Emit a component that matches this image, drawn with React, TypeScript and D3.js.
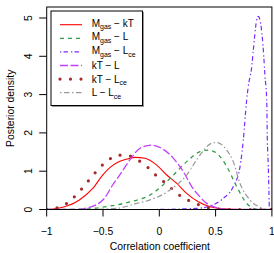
import React from 'react'
import * as d3 from 'd3'

// posterior density curves, [correlation, density]
const mgasKT: [number, number][] = [
  [-1, 0], [-0.926, 0.02], [-0.858, 0.06], [-0.71, 0.25], [-0.591, 0.55], [-0.503, 0.9],
  [-0.429, 1.12], [-0.355, 1.25], [-0.296, 1.31], [-0.216, 1.36], [-0.127, 1.34],
  [-0.023, 1.16], [0.066, 0.9], [0.155, 0.68], [0.243, 0.42], [0.346, 0.2], [0.45, 0.07],
  [0.566, 0.02], [0.717, 0], [1, 0],
]
const mgasL: [number, number][] = [
  [-1, 0], [-0.88, 0], [-0.678, 0.01], [-0.438, 0.09], [-0.26, 0.2], [-0.082, 0.38],
  [0.095, 0.81], [0.243, 1.25], [0.361, 1.51], [0.435, 1.55], [0.51, 1.47], [0.599, 1.12],
  [0.687, 0.6], [0.776, 0.16], [0.835, 0.03], [0.894, 0], [1, 0],
]
const mgasLce: [number, number][] = [
  [-1, 0], [-0.08, 0], [0.332, 0.03], [0.45, 0.09], [0.568, 0.29], [0.657, 0.6],
  [0.717, 1.12], [0.746, 1.81], [0.776, 2.86], [0.79, 3.21], [0.821, 3.73], [0.835, 4.16],
  [0.865, 4.95], [0.879, 5.04], [0.894, 4.95], [0.924, 4.16], [0.939, 3.47], [0.954, 2.86],
  [0.959, 1.9], [0.968, 1.12], [0.974, 0.42], [0.977, 0.07], [0.983, 0], [1, 0],
]
const ktL: [number, number][] = [
  [-1, 0], [-0.75, 0], [-0.659, 0.03], [-0.562, 0.12], [-0.488, 0.29], [-0.414, 0.64],
  [-0.34, 0.95], [-0.26, 1.3], [-0.171, 1.6], [-0.068, 1.68], [0.036, 1.57], [0.124, 1.34],
  [0.213, 0.99], [0.288, 0.6], [0.361, 0.33], [0.421, 0.16], [0.51, 0.05], [0.63, 0], [1, 0],
]
const ktLce: [number, number][] = [
  [-1, 0], [-0.977, 0.02], [-0.882, 0.06], [-0.793, 0.23], [-0.722, 0.43], [-0.657, 0.65],
  [-0.595, 0.87], [-0.527, 1.1], [-0.453, 1.29], [-0.364, 1.42], [-0.266, 1.4],
  [-0.178, 1.27], [-0.098, 1.09], [-0.029, 0.89], [0.05, 0.7], [0.124, 0.51], [0.204, 0.32],
  [0.29, 0.2], [0.385, 0.09], [0.486, 0.02], [0.6, 0], [1, 0],
]
const lLce: [number, number][] = [
  [-1, 0], [-0.615, 0], [-0.378, 0.03], [-0.2, 0.16], [-0.083, 0.25], [0.095, 0.51],
  [0.243, 0.9], [0.361, 1.42], [0.465, 1.73], [0.51, 1.75], [0.599, 1.55], [0.657, 1.25],
  [0.717, 0.68], [0.805, 0.25], [0.894, 0.06], [0.95, 0], [1, 0],
]

const xTicks = [-1, -0.5, 0, 0.5, 1]
const yTicks = [0, 1, 2, 3, 4, 5]

const series = [
  { a: 'M', sa: 'gas', b: 'kT', sb: '', data: mgasKT, color: '#ff0000', dash: '', w: 1.1 },
  { a: 'M', sa: 'gas', b: 'L', sb: '', data: mgasL, color: '#2f9e44', dash: '4 4', w: 1.3 },
  { a: 'M', sa: 'gas', b: 'L', sb: 'ce', data: mgasLce, color: '#7a2cff', dash: '1.3 2.2 4.5 3', w: 1.2 },
  { a: 'kT', sa: '', b: 'L', sb: '', data: ktL, color: '#c040ff', dash: '8 2.5', w: 1.3 },
  { a: 'kT', sa: '', b: 'L', sb: 'ce', data: ktLce, color: '#a52a2a', dash: '0 10.5', w: 3.2 },
  { a: 'L', sa: '', b: 'L', sb: 'ce', data: lLce, color: '#999999', dash: '1.5 2.5 5.5 2.5', w: 1.2 },
]

const font = '"Liberation Sans", Arial, sans-serif'

export default function App() {
  const width = 274
  const height = 253
  const left = 46.7, right = 271.9, top = 7, bottom = 209.5

  const x = d3.scaleLinear().domain([-1, 1]).range([left, right])
  const y = d3.scaleLinear().domain([0, 5.287]).range([bottom, top])

  const line = d3.line<[number, number]>()
    .x(d => x(d[0]))
    .y(d => y(d[1]))
    .curve(d3.curveMonotoneX)

  const fmt = (v: number) => (v < 0 ? '\u2212' + Math.abs(v) : String(v))
  const fs = 10.4

  return (
    <svg width={width} height={height} style={{ position: 'absolute', left: 0, top: 0 }}
      fontFamily={font}>
      <rect width={width} height={height} fill="white" />
      <defs>
        <clipPath id="plot">
          <rect x={left} y={top} width={right - left} height={bottom - top} />
        </clipPath>
      </defs>
      <g clipPath="url(#plot)">
        {series.map((s, i) => (
          <path key={i} d={line(s.data) || ''} fill="none" stroke={s.color}
            strokeWidth={s.w} strokeDasharray={s.dash || undefined}
            strokeLinecap={s.dash === '0 10.5' ? 'round' : 'butt'} />
        ))}
      </g>
      <rect x={left} y={top} width={right - left} height={bottom - top}
        fill="none" stroke="black" strokeWidth={1} />

      {/* x axis */}
      {xTicks.map(t => (
        <g key={t}>
          <line x1={x(t)} x2={x(t)} y1={bottom} y2={bottom + 7} stroke="black" />
          <text x={x(t)} y={235.3} textAnchor="middle" fontSize={fs}>{fmt(t)}</text>
        </g>
      ))}
      <text x={(left + right) / 2 + 0.5} y={249.5} textAnchor="middle" fontSize={fs}>
        Correlation coefficient
      </text>

      {/* y axis */}
      {yTicks.map(t => (
        <g key={t}>
          <line x1={left - 7.5} x2={left} y1={y(t)} y2={y(t)} stroke="black" />
          <text transform={`translate(31.8,${y(t)}) rotate(-90)`} textAnchor="middle"
            fontSize={fs}>{t}</text>
        </g>
      ))}
      <text transform={`translate(13.5,${(top + bottom) / 2}) rotate(-90)`}
        textAnchor="middle" fontSize={fs}>Posterior density</text>

      {/* legend */}
      <rect x={52} y={12} width={92} height={95} fill="#999" />
      <rect x={51} y={11} width={91.5} height={94.5} fill="white" stroke="black" strokeWidth={1} />
      {series.map((s, i) => {
        const ly = 24.7 + 13.6 * i
        const by = ly + (s.sa ? 2 : 3.4)
        return (
          <g key={i}>
            <line x1={60} x2={82} y1={ly} y2={ly} stroke={s.color} strokeWidth={s.w}
              strokeDasharray={s.dash || undefined}
              strokeLinecap={s.dash === '0 10.5' ? 'round' : 'butt'} />
            <text x={91.7} y={by} fontSize={10}>
              {s.a}
              {s.sa && <tspan fontSize={7} dy={2.6}>{s.sa}</tspan>}
              <tspan dy={s.sa ? -2.6 : 0}>{' \u2212 '}{s.b}</tspan>
              {s.sb && <tspan fontSize={7} dy={2.6}>{s.sb}</tspan>}
            </text>
          </g>
        )
      })}
    </svg>
  )
}
